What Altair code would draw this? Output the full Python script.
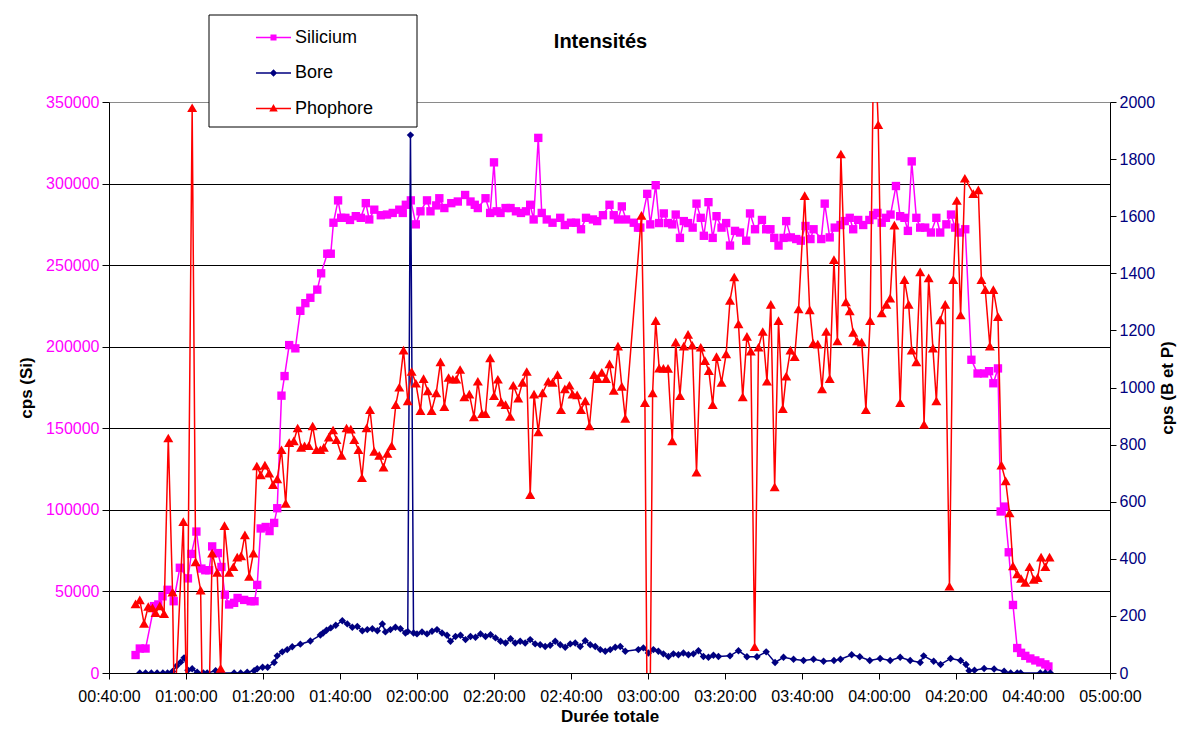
import altair as alt
import pandas as pd

# ---------------- data (time in minutes since 00:00, counts per second) ----------------
si_time = [46.9, 48.0, 49.5, 51.7, 52.8, 53.9, 55.2, 56.8, 58.4, 60.5,
           61.4, 62.7, 64.0, 65.0, 66.0, 66.8, 68.3, 69.2, 70.1, 71.2,
           72.5, 73.4, 75.1, 76.8, 77.8, 78.5, 79.4, 80.7, 81.7, 82.9,
           83.7, 84.8, 85.6, 86.8, 88.4, 89.7, 91.0, 92.3, 94.1, 95.1,
           96.7, 97.6, 98.3, 99.5, 100.3, 101.4, 102.6, 104.1, 105.4, 106.7,
           107.6, 108.9, 110.6, 112.2, 113.7, 115.4, 116.3, 117.1, 118.4, 119.7,
           120.9, 122.6, 123.5, 125.0, 125.8, 127.1, 128.9, 130.6, 132.5, 133.9,
           135.0, 135.8, 137.8, 139.0, 140.0, 140.7, 141.7, 143.0, 144.3, 145.7,
           147.0, 148.3, 149.4, 150.3, 151.5, 152.4, 153.7, 155.2, 157.2, 158.4,
           160.0, 161.3, 162.6, 163.9, 165.7, 166.8, 168.3, 170.0, 171.1, 172.2,
           173.2, 174.3, 176.3, 177.4, 178.0, 179.8, 180.6, 182.0, 182.9, 184.1,
           185.2, 186.3, 187.2, 188.3, 189.3, 190.4, 191.6, 192.6, 193.7, 194.5,
           195.7, 196.8, 197.8, 199.1, 200.3, 201.3, 202.6, 203.9, 205.5, 206.5,
           207.8, 209.6, 210.7, 211.8, 212.8, 213.9, 215.2, 215.9, 217.1, 218.5,
           219.7, 220.9, 222.2, 223.0, 225.0, 225.9, 227.2, 228.5, 230.0, 231.1,
           232.4, 233.3, 234.6, 235.9, 237.5, 238.5, 239.6, 240.7, 241.8, 243.0,
           244.4, 245.5, 246.6, 247.5, 248.5, 249.7, 250.7, 252.0, 253.5, 254.9,
           255.9, 257.5, 258.7, 259.8, 261.0, 262.4, 264.0, 265.6, 267.3, 268.6,
           269.7, 270.9, 271.6, 272.6, 273.7, 274.8, 275.9, 276.9, 278.0, 279.3,
           280.6, 281.9, 283.2, 284.0]
si_cps = [11000, 15000, 15000, 41000, 42000, 47000, 51000, 44000, 64500, 58000,
          73000, 86700, 64000, 63000, 63000, 77600, 73500, 65000, 48000, 42000,
          43000, 46000, 44800, 44000, 44000, 54000, 88600, 89500, 87000, 92000,
          101000, 170000, 182000, 201000, 199000, 222000, 226700, 230000, 235000, 245000,
          257000, 257000, 276000, 289700, 279000, 279000, 277700, 280000, 279000, 288000,
          278000, 284000, 280600, 281000, 282000, 284000, 282000, 287000, 289700, 275000,
          283000, 289700, 283000, 286600, 291000, 285000, 288000, 289000, 293000, 289000,
          287000, 285000, 291000, 282000, 313000, 283000, 282000, 285000, 285000, 283000,
          282000, 283000, 287000, 278000, 328000, 282000, 278000, 276000, 279000, 274600,
          276000, 276000, 272000, 279000, 278000, 277000, 280600, 287000, 280600, 278000,
          286000, 278000, 276000, 273000, 273000, 293700, 275000, 299000, 275800, 281700,
          275800, 275000, 281000, 266700, 277000, 275800, 273000, 287700, 279000, 268000,
          288600, 266700, 280000, 273000, 275800, 262000, 271000, 270000, 265000, 281700,
          272000, 277700, 272000, 272000, 266700, 262000, 266700, 277000, 267000, 266000,
          265000, 274000, 266000, 272000, 266000, 287700, 267000, 273000, 274600, 277000,
          279000, 272000, 277700, 274600, 277700, 280600, 282000, 276000, 279000, 281000,
          298500, 280000, 279000, 271000, 313600, 279000, 273000, 273000, 270000, 279000,
          270000, 275000, 281000, 273000, 270000, 272000, 192000, 183600, 183600, 185000,
          177600, 186700, 99000, 102000, 74000, 41700, 15300, 12400, 10500, 8900,
          7700, 6500, 5300, 4000]

bore_time = [48.0, 49.5, 51.0, 52.5, 54.0, 55.2, 56.5, 57.6, 58.6, 59.5,
             60.5, 61.6, 62.9, 64.5, 65.5, 67.7, 69.0, 72.5, 74.2, 75.9,
             77.7, 78.5, 79.9, 81.2, 82.9, 83.7, 85.0, 86.3, 87.6, 89.7,
             92.3, 94.9, 95.6, 96.5, 97.6, 98.9, 100.6, 101.9, 103.2, 104.5,
             105.8, 107.1, 108.4, 109.7, 111.0, 111.8, 113.1, 114.4, 115.7, 117.0,
             117.6, 118.3, 119.1, 120.0, 121.3, 122.6, 123.9, 125.2, 126.5, 127.8,
             128.7, 130.0, 131.3, 132.6, 133.9, 135.2, 136.5, 137.8, 139.1, 140.4,
             141.7, 143.0, 144.3, 145.5, 146.8, 148.1, 149.4, 150.7, 152.0, 153.3,
             154.6, 155.9, 157.2, 158.5, 159.8, 161.1, 162.4, 163.7, 165.0, 166.3,
             167.6, 168.9, 170.2, 171.5, 172.8, 174.1, 177.5, 178.8, 180.1, 181.4,
             182.7, 184.0, 185.3, 186.6, 187.9, 189.2, 190.5, 191.8, 193.1, 194.4,
             195.7, 197.0, 198.3, 201.3, 203.5, 205.7, 208.3, 210.7, 213.0, 215.2,
             217.8, 220.4, 223.0, 225.6, 228.3, 230.0, 232.9, 235.0, 237.6, 240.3,
             242.9, 245.5, 248.1, 250.7, 251.6, 254.2, 256.0, 258.6, 261.2, 262.6,
             263.4, 264.8, 267.3, 269.9, 272.5, 274.2, 275.9, 276.8, 281.9, 283.2,
             284.5]
bore_cps = [0, 0, 0, 0, 0, 0, 5, 25, 38, 53,
            10, 15, 3, 0, 0, 8, 0, 0, 0, 3,
            8, 15, 20, 20, 37, 60, 74, 82, 92, 101,
            112, 133, 140, 150, 158, 167, 183, 172, 160, 163,
            148, 152, 155, 148, 172, 144, 152, 160, 155, 140,
            145, 1884, 140, 137, 144, 137, 146, 152, 140, 132,
            111, 128, 132, 117, 128, 125, 137, 128, 134, 123,
            111, 105, 120, 105, 111, 105, 117, 102, 99, 93,
            97, 111, 99, 90, 102, 105, 93, 113, 99, 93,
            82, 76, 82, 90, 93, 76, 82, 88, 70, 82,
            76, 67, 58, 67, 64, 70, 64, 67, 78, 58,
            55, 62, 58, 60, 78, 57, 57, 74, 37, 55,
            48, 44, 48, 41, 44, 48, 64, 57, 44, 51,
            44, 55, 44, 37, 60, 41, 30, 51, 44, 30,
            8, 10, 16, 14, 6, 0, 0, 0, 0, 0,
            0]

p_time = [46.9, 48.0, 49.1, 50.2, 51.3, 52.1, 53.2, 54.3, 55.4, 56.5,
          57.0, 59.3, 60.2, 61.6, 62.5, 63.8, 64.3, 65.9, 66.8, 68.1,
          69.0, 70.0, 71.2, 72.3, 73.3, 74.3, 75.3, 76.4, 77.5, 78.4,
          79.4, 80.5, 81.6, 82.6, 83.7, 84.8, 85.9, 86.8, 88.0, 89.0,
          89.9, 90.8, 91.9, 92.9, 93.9, 94.9, 95.8, 97.1, 98.2, 99.1,
          100.4, 101.7, 102.8, 103.7, 104.8, 105.7, 106.9, 107.8, 108.9, 110.2,
          111.3, 112.3, 113.4, 114.5, 115.4, 116.5, 117.6, 118.6, 119.7, 120.9,
          121.7, 122.8, 123.8, 125.0, 126.1, 127.1, 128.2, 129.3, 130.2, 131.2,
          132.3, 133.6, 134.8, 135.8, 136.9, 137.8, 139.0, 140.0, 141.0, 141.9,
          143.0, 144.2, 145.0, 146.3, 147.4, 148.5, 149.4, 150.4, 151.5, 152.6,
          154.1, 155.2, 156.5, 157.4, 158.4, 159.6, 160.4, 161.6, 162.6, 163.7,
          164.8, 166.0, 167.0, 168.0, 169.1, 170.0, 171.1, 172.2, 173.2, 174.1,
          178.3, 179.2, 179.8, 180.5, 181.2, 182.0, 182.9, 184.0, 185.2, 186.3,
          187.2, 188.3, 189.3, 190.4, 191.5, 192.6, 193.7, 194.8, 195.8, 196.8,
          197.8, 199.1, 200.3, 201.3, 202.4, 203.5, 204.6, 205.7, 206.7, 207.7,
          208.7, 209.8, 210.9, 211.9, 212.9, 213.9, 215.0, 215.9, 217.0, 218.1,
          219.1, 220.7, 222.0, 222.9, 224.1, 225.2, 226.3, 227.2, 228.3, 229.2,
          230.1, 231.4, 232.4, 233.3, 234.3, 235.5, 236.6, 237.7, 238.7, 239.8,
          240.7, 241.9, 242.9, 244.0, 245.5, 246.6, 247.7, 248.5, 249.7, 250.7,
          251.7, 252.9, 254.0, 254.9, 255.9, 257.2, 258.3, 259.3, 260.2, 261.2,
          262.3, 264.5, 265.8, 266.6, 267.6, 268.8, 269.7, 270.9, 271.8, 272.9,
          273.9, 274.8, 275.9, 276.9, 278.0, 279.1, 280.2, 281.2, 282.1, 283.2,
          284.3]
p_cps = [242, 256, 174, 233, 228, 211, 235, 208, 823, 283,
         -150, 530, -150, 1980, 389, 290, -150, -150, 420, 352,
         16, 516, 352, 372, 406, 410, 484, 338, 420, 725,
         694, 728, 700, 660, 680, 782, 594, 807, 813, 858,
         790, 796, 796, 865, 782, 782, 790, 826, 851, 817,
         762, 858, 854, 817, 782, 684, 858, 922, 776, 762,
         721, 769, 796, 940, 1001, 1131, 953, 1056, 1015, 919,
         1031, 988, 919, 981, 1090, 933, 1035, 1029, 1029, 1063,
         967, 977, 897, 1022, 908, 908, 1104, 971, 1029, 949,
         940, 899, 1008, 963, 1018, 1056, 625, 977, 844, 981,
         1022, 1018, 1045, 922, 995, 1008, 977, 974, 922, 953,
         865, 1045, 1031, 1053, 1031, 1083, 990, 1145, 1004, 892,
         1603, 947, -200, -200, 981, 1234, 1068, 1067, 1067, 813,
         1159, 971, 1145, 1186, 1148, 703, 1141, 1094, 1059, 940,
         1108, 1018, 1118, 1305, 1387, 1223, 967, 1179, 1127, 92,
         1141, 1196, 1022, 1291, 652, 1234, 926, 1040, 1131, 1108,
         1275, 1672, 1272, 1155, 1152, 995, 1196, 1031, 1448, 1163,
         1818, 1300, 1268, 1193, 1163, 1159, 922, 1234, 2300, 1921,
         1261, 1291, 1313, 1569, 947, 1378, 1291, 1131, 1090, 1405,
         871, 1384, 1138, 953, 1237, 1291, 304, 1378, 1655, 1254,
         1733, 1679, 1692, 1378, 1343, 1145, 1343, 1248, 728, 673,
         561, 375, 347, 331, 317, 372, 328, 334, 406, 372,
         406]

series_names = ["Silicium", "Bore", "Phophore"]
series_colors = ["#FF00FF", "#000080", "#FF0000"]

si_df = pd.DataFrame({"t": si_time, "v": si_cps})
b_df = pd.DataFrame({"t": bore_time, "v": bore_cps})
p_df = pd.DataFrame({"t": p_time, "v": p_cps})
leg_df = pd.DataFrame({"series": series_names})
frame_df = pd.DataFrame({"box": [1]})

FONT = "Liberation Sans"

x_enc = alt.X(
    "t:Q",
    scale=alt.Scale(domain=[40, 300], nice=False, zero=False),
    axis=alt.Axis(
        values=list(range(40, 301, 20)),
        labelExpr="utcFormat(datum.value * 60000, '%H:%M:%S')",
        labelOverlap=False,
        labelFlush=False,
        title="Durée totale",
        grid=False,
        tickSize=6,
        labelPadding=9,
        titlePadding=4,
    ),
)

left_axis = alt.Axis(
    values=list(range(0, 350001, 50000)),
    format="d",
    title="cps (Si)",
    labelColor="#FF00FF",
    grid=True,
    gridColor={"condition": {"test": "datum.value >= 350000", "value": "#8a8a8a"}, "value": "#000000"},
    gridWidth=1,
    tickSize=7,
    labelPadding=3,
    titlePadding=10,
)
y_left = alt.Y("v:Q", scale=alt.Scale(domain=[0, 350000], nice=False), axis=left_axis)

right_axis = alt.Axis(
    orient="right",
    values=list(range(0, 2001, 200)),
    format="d",
    title="cps (B et P)",
    titleAngle=270,
    titleBaseline="top",
    labelColor="#000080",
    grid=False,
    tickSize=6,
    labelPadding=3,
    titlePadding=5,
)
y_right = alt.Y("v:Q", scale=alt.Scale(domain=[0, 2000], nice=False), axis=right_axis)

# legend frame (white box with black border, overlapping the top of the plot)
legend_frame = alt.Chart(frame_df).mark_rect(fill="white", stroke="black", strokeWidth=1, clip=False).encode(
    x=alt.value(100), x2=alt.value(308), y=alt.value(-87), y2=alt.value(25)
)

si_line = alt.Chart(si_df).mark_line(color=series_colors[0], strokeWidth=1.5, clip=True).encode(x=x_enc, y=y_left)
si_pts = alt.Chart(si_df).mark_point(shape="square", filled=True, size=70, opacity=1,
                                     color=series_colors[0], clip=True).encode(x=x_enc, y=y_left)

sq_path = "M-1,0L1,0M-0.13,-0.13L0.13,-0.13L0.13,0.13L-0.13,0.13Z"
di_path = "M-1,0L1,0M0,-0.15L0.15,0L0,0.15L-0.15,0Z"
tr_path = "M-1,0L1,0M0,-0.17L0.17,0.13L-0.17,0.13Z"

legend = alt.Legend(
    title=None, orient="none", legendX=100, legendY=-87, direction="vertical",
    padding=4,
    symbolSize=1225, symbolStrokeWidth=1.5, symbolOpacity=1, symbolOffset=42,
    labelFontSize=18, labelFont=FONT, labelColor="black", labelOffset=3,
    rowPadding=7.5,
)
legend_layer = alt.Chart(leg_df).mark_point(filled=True, opacity=0).encode(
    fill=alt.Fill("series:N", scale=alt.Scale(domain=series_names, range=series_colors), legend=legend),
    stroke=alt.Stroke("series:N", scale=alt.Scale(domain=series_names, range=series_colors), legend=legend),
    shape=alt.Shape("series:N", scale=alt.Scale(domain=series_names, range=[sq_path, di_path, tr_path]),
                    legend=legend),
    x=alt.value(-50),
    y=alt.value(-50),
)

b_line = alt.Chart(b_df).mark_line(color=series_colors[1], strokeWidth=1.5, clip=True).encode(x=x_enc, y=y_right)
b_pts = alt.Chart(b_df).mark_point(shape="diamond", filled=True, size=55, opacity=1,
                                   color=series_colors[1], clip=True).encode(x=x_enc, y=y_right)
p_line = alt.Chart(p_df).mark_line(color=series_colors[2], strokeWidth=1.5, clip=True).encode(x=x_enc, y=y_right)
p_pts = alt.Chart(p_df).mark_point(shape="triangle-up", filled=True, size=100, opacity=1,
                                   color=series_colors[2], clip=True).encode(x=x_enc, y=y_right)

left = alt.layer(legend_frame, si_line, si_pts, legend_layer)
right = alt.layer(b_line, b_pts, p_line, p_pts)

chart = (
    alt.layer(left, right)
    .resolve_scale(y="independent")
    .properties(
        width=1001,
        height=571,
        title=alt.TitleParams("Intensités", fontSize=20, fontWeight="bold", font=FONT,
                              anchor="middle", dx=-9, offset=-37, color="black"),
        autosize=alt.AutoSizeParams(type="none"),
        padding={"left": 101, "top": 94, "right": 70, "bottom": 52},
    )
    .configure_view(stroke=None)
    .configure_axis(
        labelFont=FONT, titleFont=FONT, labelFontSize=16, titleFontSize=17,
        titleFontWeight="bold", titleColor="black", domainColor="black",
        tickColor="black", domainWidth=1, tickWidth=1,
    )
    .configure_axisX(labelColor="black")
)

chart.save("out.html", embed_options={"renderer": "svg", "actions": False})
